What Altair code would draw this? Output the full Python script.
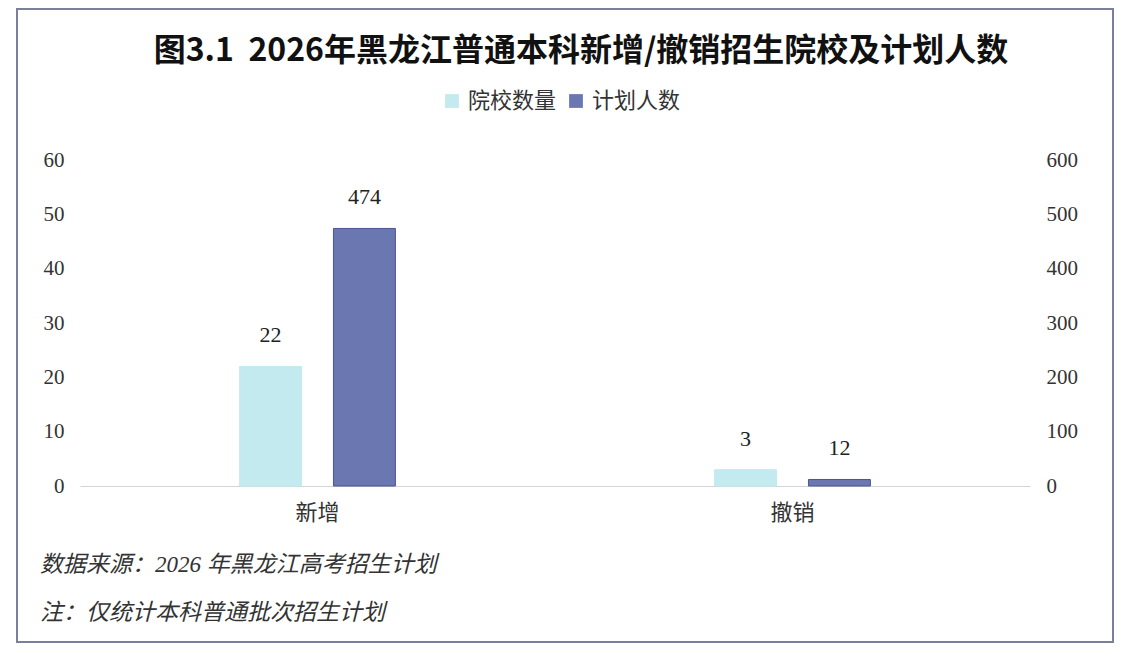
import altair as alt
import pandas as pd

categories = ["新增", "撤销"]
series = ["院校数量", "计划人数"]
school_counts = [22, 3]
plan_counts = [474, 12]
left_ticks = [0, 10, 20, 30, 40, 50, 60]
right_ticks = [0, 100, 200, 300, 400, 500, 600]
title_text = "图3.1\u00a0\u00a02026年黑龙江普通本科新增/撤销招生院校及计划人数"
footnotes = ["数据来源：2026 年黑龙江高考招生计划", "注：仅统计本科普通批次招生计划"]
colors = ["#C3EAEE", "#6B77B1"]

SERIF = "Liberation Serif, Noto Sans CJK SC"
CJK = "Noto Sans CJK SC"

df_a = pd.DataFrame({"cat": categories, "series": series[0], "value": school_counts})
df_b = pd.DataFrame({"cat": categories, "series": series[1], "value": plan_counts})

x_enc = alt.X(
    "cat:N",
    sort=categories,
    scale=alt.Scale(domain=categories, paddingInner=0.672, paddingOuter=0.336),
    axis=alt.Axis(
        title=None, labelAngle=0, domain=True, domainColor="#d4d4d4", domainWidth=1.2,
        ticks=False, tickSize=0, labelFont=CJK, labelFontSize=22, labelColor="#333333",
        labelPadding=16,
    ),
)
xo_enc = alt.XOffset(
    "series:N",
    scale=alt.Scale(domain=series, paddingInner=0.34, paddingOuter=0),
)
color_enc = alt.Color(
    "series:N",
    scale=alt.Scale(domain=series, range=colors),
    legend=alt.Legend(
        title=None, orient="none", legendX=361, legendY=-70, direction="horizontal",
        symbolType="square", symbolSize=190, symbolStrokeWidth=0,
        labelFont=CJK, labelFontSize=22, labelColor="#333333",
        labelOffset=5, columnPadding=8,
    ),
)

def series_layer(df, domain_max, ticks, orient):
    y = alt.Y(
        "value:Q",
        scale=alt.Scale(domain=[0, domain_max], nice=False, zero=True),
        axis=alt.Axis(
            title=None, orient=orient, values=ticks, grid=False, domain=False,
            ticks=False, tickSize=0, labelFont="Liberation Serif", labelFontSize=21,
            labelColor="#333333", labelPadding=16,
        ),
    )
    base = alt.Chart(df).encode(x=x_enc, xOffset=xo_enc, y=y)
    bars = base.mark_bar(stroke="#4B5592" if orient == "right" else "#C3EAEE", strokeWidth=1).encode(color=color_enc)
    labels = base.mark_text(
        baseline="alphabetic", dy=-24, font="Liberation Serif", fontSize=22, color="#222222"
    ).encode(text="value:Q")
    return alt.layer(bars, labels)

layer_a = series_layer(df_a, 60, left_ticks, "left")
layer_b = series_layer(df_b, 600, right_ticks, "right")

frame = alt.Chart(pd.DataFrame({"k": [0]})).mark_rect(
    fillOpacity=0, stroke="#7A7F9E", strokeWidth=2
).encode(
    x=alt.value(-63), x2=alt.value(1033), y=alt.value(-151), y2=alt.value(482)
)

foot1 = alt.Chart(pd.DataFrame({"t": [footnotes[0]]})).mark_text(
    align="left", baseline="alphabetic", font=SERIF, fontSize=23, fontStyle="italic",
    color="#333333"
).encode(text="t:N", x=alt.value(-40), y=alt.value(412))

foot2 = alt.Chart(pd.DataFrame({"t": [footnotes[1]]})).mark_text(
    align="left", baseline="alphabetic", font=SERIF, fontSize=23, fontStyle="italic",
    color="#333333"
).encode(text="t:N", x=alt.value(-40), y=alt.value(460))

chart = alt.layer(frame, layer_a, layer_b, foot1, foot2).resolve_scale(
    y="independent"
).properties(
    width=950,
    height=326,
    background="white",
    title=alt.TitleParams(
        text=title_text, font=CJK, fontSize=32, fontWeight="bold", color="#111111",
        anchor="middle", dx=26, offset=-60,
    ),
    autosize=alt.AutoSizeParams(type="none"),
    padding={"left": 72, "top": 152, "right": 85, "bottom": 162},
).configure_view(strokeOpacity=0, strokeWidth=0)

chart.save("out.html", embed_options={"renderer": "svg", "actions": False})
